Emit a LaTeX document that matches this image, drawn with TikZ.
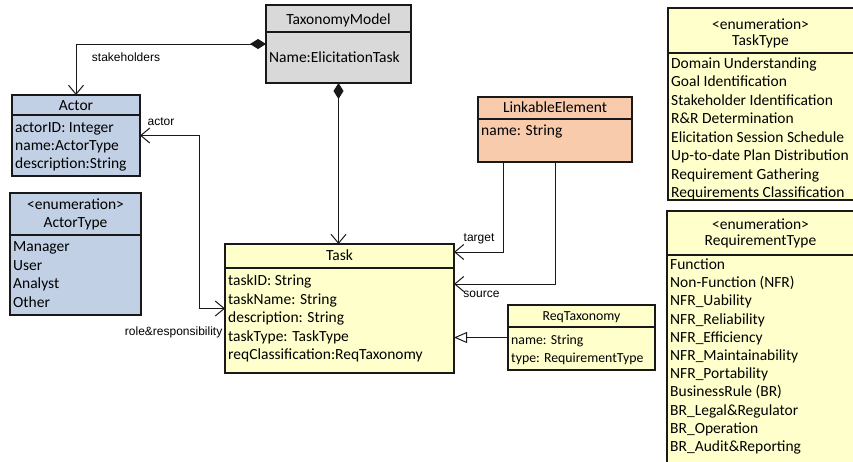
\documentclass[tikz,border=0pt]{standalone}
\usepackage{fontspec}
\setmainfont{Carlito}
\newfontfamily\labfont{Liberation Sans}
\usetikzlibrary{arrows.meta}
\definecolor{tmgray}{RGB}{217,217,217}
\definecolor{actblue}{RGB}{193,208,228}
\definecolor{taskyel}{RGB}{255,255,204}
\definecolor{leorange}{RGB}{248,203,173}
\definecolor{linec}{RGB}{25,25,25}
\tikzset{
  umlbox/.style={draw=linec, line width=1.2pt, anchor=north west, inner sep=0pt, outer sep=0pt},
  hdr/.style={draw=linec, line width=1.2pt},
  txt/.style={anchor=base west, inner sep=0pt, font=\fontsize{15.5}{18}\selectfont},
  ttl/.style={anchor=base, inner sep=0pt, font=\fontsize{15.5}{18}\selectfont},
  stxt/.style={anchor=base west, inner sep=0pt, font=\fontsize{13.8}{16}\selectfont},
  sttl/.style={anchor=base, inner sep=0pt, font=\fontsize{13.8}{16}\selectfont},
  lbl/.style={inner sep=0pt, font=\labfont\fontsize{12}{14}\selectfont},
  conn/.style={draw=linec, line width=1pt},
  comp/.style={{Diamond[length=16pt,width=10pt]}-{Straight Barb[length=9pt,width=15pt,line width=1pt]}},
  assoc/.style={-{Straight Barb[length=9pt,width=15pt,line width=1pt]}},
  assocboth/.style={{Straight Barb[length=9pt,width=15pt,line width=1pt]}-{Straight Barb[length=9pt,width=15pt,line width=1pt]}},
  gen/.style={-{Triangle[open,length=13pt,width=11pt,line width=1pt,fill=white]}},
}
\begin{document}
\begin{tikzpicture}[x=1pt,y=-1pt]
\useasboundingbox (0,0) rectangle (853,461);
\clip (0,0) rectangle (853,461);
\fill[white] (0,0) rectangle (853,461);

% TaxonomyModel
\node[umlbox, fill=tmgray, minimum width=145pt, minimum height=78pt] (tm) at (266,5) {};
\draw[hdr] (tm.west |- 0,32) -- (tm.east |- 0,32);
\node[ttl] (tm-t) at (338.5,24) {TaxonomyModel};
\node[txt] (tm-a) at (269,62) {Name:ElicitationTask};

% Actor
\node[umlbox, fill=actblue, minimum width=128pt, minimum height=81pt] (actor) at (12,95) {};
\draw[hdr] (actor.west |- 0,115) -- (actor.east |- 0,115);
\node[ttl] (actor-t) at (76,110) {Actor};
\foreach \t [count=\i from 0] in {actorID: Integer, name:ActorType, description:String}
  \node[txt] (actor-\i) at (15,132+18.4*\i) {\t};

% ActorType
\node[umlbox, fill=actblue, minimum width=131pt, minimum height=122pt] (at) at (10,193) {};
\draw[hdr] (at.west |- 0,235) -- (at.east |- 0,235);
\node[ttl] (at-s) at (75.5,209.5) {<enumeration>};
\node[ttl] (at-t) at (75.5,227.5) {ActorType};
\foreach \t [count=\i from 0] in {Manager, User, Analyst, Other}
  \node[txt] (at-\i) at (13,251.5+18.5*\i) {\t};

% Task
\node[umlbox, fill=taskyel, minimum width=229pt, minimum height=129pt] (task) at (225,244) {};
\draw[hdr] (task.west |- 0,268) -- (task.east |- 0,268);
\node[ttl] (task-t) at (339.5,260.5) {Task};
\foreach \t [count=\i from 0] in {taskID: String, taskName: String, description: String, taskType: TaskType, reqClassification:ReqTaxonomy}
  \node[txt] (task-\i) at (228,285.5+18.5*\i) {\t};

% LinkableElement
\node[umlbox, fill=leorange, minimum width=154pt, minimum height=65pt] (le) at (478,97) {};
\draw[hdr] (le.west |- 0,119) -- (le.east |- 0,119);
\node[ttl] (le-t) at (555,112.5) {LinkableElement};
\node[txt] (le-a) at (481,135.5) {name: String};

% ReqTaxonomy
\node[umlbox, fill=taskyel, minimum width=147pt, minimum height=65pt] (rt) at (508,305) {};
\draw[hdr] (rt.west |- 0,327) -- (rt.east |- 0,327);
\node[sttl] (rt-t) at (581.5,320.5) {ReqTaxonomy};
\node[stxt] (rt-0) at (511,344.5) {name: String};
\node[stxt] (rt-1) at (511,362.5) {type: RequirementType};

% TaskType enumeration
\node[umlbox, fill=taskyel, minimum width=186pt, minimum height=192pt] (tt) at (668,8) {};
\draw[hdr] (tt.west |- 0,53) -- (tt.east |- 0,53);
\node[ttl] (tt-s) at (760.5,29.5) {<enumeration>};
\node[ttl] (tt-t) at (760.5,45) {TaskType};
\foreach \t [count=\i from 0] in {Domain Understanding, Goal Identification, Stakeholder Identification, R\&R Determination, Elicitation Session Schedule, Up-to-date Plan Distribution, Requirement Gathering, Requirements Classification}
  \node[txt] (tt-\i) at (671,68.5+18.43*\i) {\t};

% RequirementType enumeration
\node[umlbox, fill=taskyel, minimum width=187pt, minimum height=270pt] (rqt) at (667,211) {};
\draw[hdr] (rqt.west |- 0,255) -- (rqt.east |- 0,255);
\node[ttl] (rqt-s) at (760.5,229.5) {<enumeration>};
\node[ttl] (rqt-t) at (760.5,245.5) {RequirementType};
\foreach \t [count=\i from 0] in {Function, Non-Function (NFR), NFR\_Uability, NFR\_Reliability, NFR\_Efficiency, NFR\_Maintainability, NFR\_Portability, BusinessRule (BR), BR\_Legal\&Regulator, BR\_Operation, BR\_Audit\&Reporting}
  \node[txt] (rqt-\i) at (670,269.5+18.2*\i) {\t};

% connectors
\coordinate (abend) at (199,0);
\coordinate (tbend) at (503,0);
\draw[conn, comp] (tm.west) -| (actor.north);
\draw[conn, comp] (tm.south) -- (tm.south |- task.north);
\draw[conn, assocboth] (actor.east) -- (actor.east -| abend) |- (task.west);
\draw[conn, assoc] (le.south -| tbend) |- (task.east |- 0,252);
\draw[conn, assoc] (le.south) |- (task.east |- 0,284);
\draw[conn, gen] (rt.west) -- (task.east |- rt.west);

% labels
\node[lbl] (l-stake) at (126,57) {stakeholders};
\node[lbl] (l-actor) at (161,122) {actor};
\node[lbl, anchor=east] (l-role) at (222.5,332) {role\&responsibility};
\node[lbl] (l-target) at (479,239) {target};
\node[lbl] (l-source) at (481.5,294) {source};
\end{tikzpicture}
\end{document}
